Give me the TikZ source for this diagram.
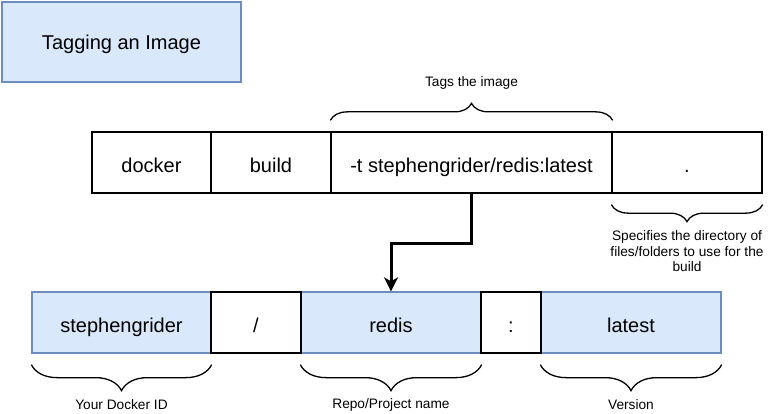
\documentclass[tikz,border=0pt]{standalone}
\usepackage{fontspec}
\setmainfont{Liberation Sans}
\usetikzlibrary{arrows.meta,decorations.pathreplacing}

\definecolor{feldblau}{HTML}{DAE8FC}
\definecolor{randblau}{HTML}{6C8EBF}

\begin{document}
\begin{tikzpicture}[>=latex,x=1pt,y=-1pt,
	feld/.style={draw=black,line width=1.3pt,fill=white,inner sep=0pt,
		minimum height=61pt,text height=22pt,text depth=2pt,
		font=\fontsize{20}{24}\selectfont},
	blaufeld/.style={feld,fill=feldblau,draw=randblau},
	klammer/.style={decorate,decoration={brace,amplitude=#1},line width=1.3pt},
	notiz/.style={font=\fontsize{13.7}{15.5}\selectfont,align=center}]

\def\obenzeile{162.5}
\def\untenzeile{322.5}

\useasboundingbox (0,0) rectangle (775,414);

% Titel
\node (titel) at (121.5,42)
	[blaufeld,minimum width=239pt,minimum height=80pt,text height=20pt,text depth=4pt]
	{Tagging an Image};

% Befehl
\node (docker) at (151.5,\obenzeile) [feld,minimum width=119pt] {docker};
\node (build) at (271,\obenzeile) [feld,minimum width=120pt] {build};
\node (tag) at (471.5,\obenzeile) [feld,minimum width=281pt]
	{-t stephengrider/redis:latest};
\node (punkt) at (687,\obenzeile) [feld,minimum width=150pt] {.};

% Tag zerlegt
\node (id) at (121.5,\untenzeile) [blaufeld,minimum width=179pt] {stephengrider};
\node (repo) at (391,\untenzeile) [blaufeld,minimum width=180pt] {redis};
\node (version) at (631,\untenzeile) [blaufeld,minimum width=180pt] {latest};
\node (strich) at (256,\untenzeile) [feld,minimum width=90pt] {/};
\node (doppelpunkt) at (511,\untenzeile) [feld,minimum width=60pt] {:};

\draw[line width=3pt,-{Stealth[length=14pt,width=14pt,inset=4pt]}]
	(tag.south) -- ++(0,50) -| (repo.north);

% Klammern
\draw[klammer=17pt] ([yshift=11pt]tag.north west) -- ([yshift=11pt]tag.north east);
\node (tagtext) at (471.5,83) [notiz] {Tags the image};

\draw[klammer=17pt] ([yshift=-11pt]punkt.south east) -- ([yshift=-11pt]punkt.south west);
\node (punkttext) at (687,251.5) [notiz]
	{Specifies the directory of\\files/folders to use for the\\build};

\draw[klammer=26pt] ([yshift=-11pt]id.south east) -- ([yshift=-11pt]id.south west);
\node (idtext) at (121.5,405) [notiz] {Your Docker ID};

\draw[klammer=26pt] ([yshift=-11pt]repo.south east) -- ([yshift=-11pt]repo.south west);
\node (repotext) at (391,405) [notiz] {Repo/Project name};

\draw[klammer=26pt] ([yshift=-11pt]version.south east) -- ([yshift=-11pt]version.south west);
\node (versiontext) at (631,405) [notiz] {Version};

\end{tikzpicture}
\end{document}
